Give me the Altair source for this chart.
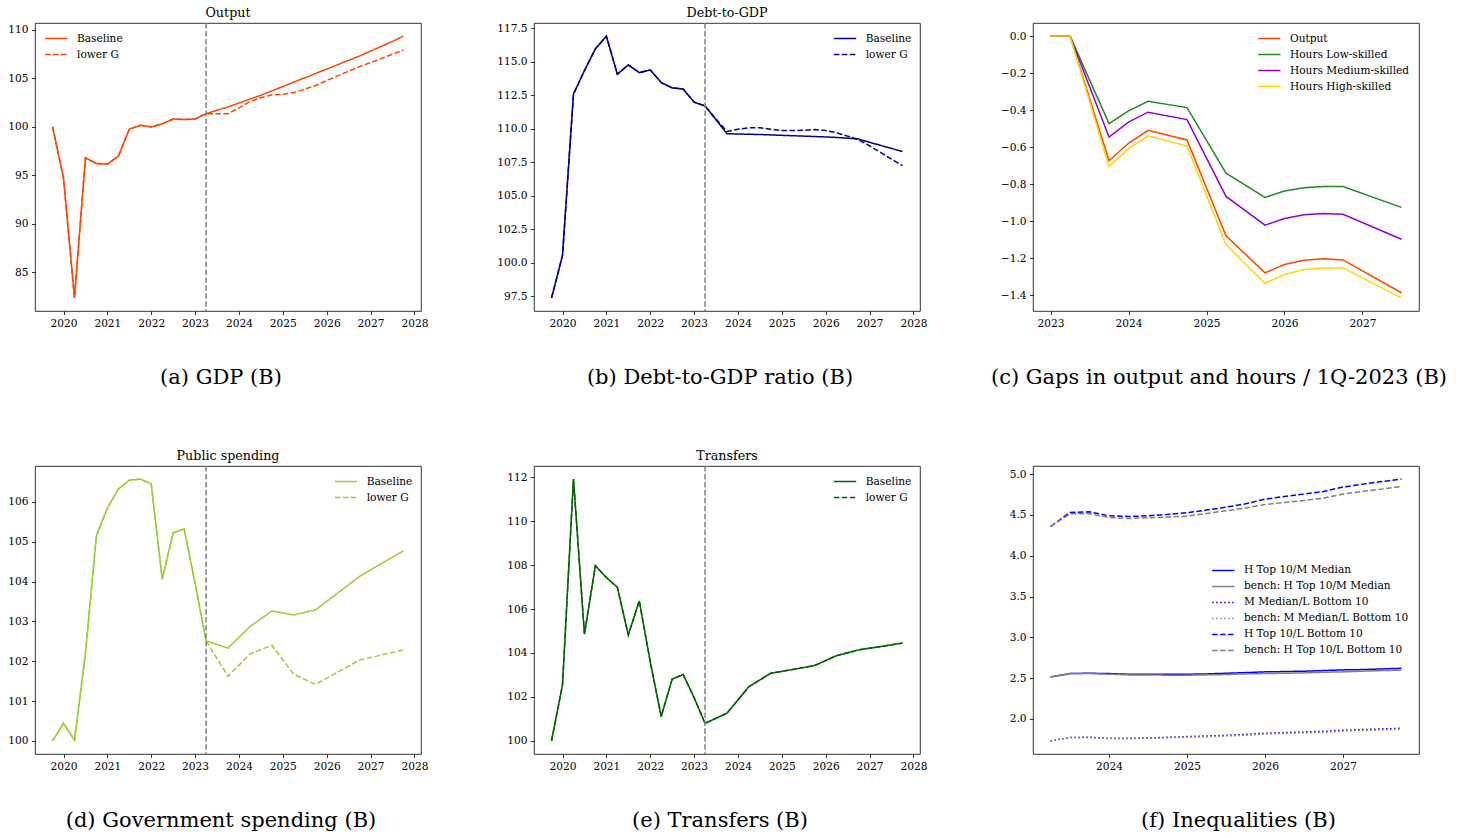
import altair as alt
import pandas as pd

# ---------------------------------------------------------------------------
# Time axis (fractional years, one point per quarter)
# ---------------------------------------------------------------------------
Q_HIST = [2019.75, 2020.0, 2020.25, 2020.5, 2020.75, 2021.0, 2021.25, 2021.5,
          2021.75, 2022.0, 2022.25, 2022.5, 2022.75, 2023.0, 2023.25]
Q_PROJ = [2023.25, 2023.5, 2023.75, 2024.0, 2024.25, 2024.5, 2024.75, 2025.0,
          2025.25, 2025.5, 2025.75, 2026.0, 2026.25, 2026.5, 2026.75, 2027.0,
          2027.25, 2027.5, 2027.75]
SHOCK_T = 2023.25
YEARS_FULL = [2020, 2021, 2022, 2023, 2024, 2025, 2026, 2027, 2028]
SCENARIOS = ["Baseline", "lower G"]

# (a) Output
OUTPUT_HIST = [100.0, 94.7, 82.35, 96.8, 96.2, 96.15, 96.95, 99.75, 100.15,
               99.98, 100.3, 100.8, 100.75, 100.8, 101.35]
OUTPUT_BASE = [101.35, 101.7, 102.05, 102.45, 102.85, 103.25, 103.7, 104.15,
               104.6, 105.05, 105.5, 105.95, 106.4, 106.85, 107.3, 107.8,
               108.3, 108.8, 109.35]
OUTPUT_LOWG = [101.35, 101.35, 101.35, 101.95, 102.6, 103.0, 103.28, 103.35,
               103.53, 103.87, 104.25, 104.77, 105.25, 105.73, 106.2, 106.63,
               107.04, 107.49, 107.9]

# (b) Debt-to-GDP
DEBT_HIST = [97.38, 100.55, 112.6, 114.35, 115.98, 116.93, 114.08, 114.78,
             114.2, 114.4, 113.46, 113.06, 112.98, 112.0, 111.71]
DEBT_BASE = [111.71, 110.68, 109.64, 109.62, 109.6, 109.58, 109.55, 109.52,
             109.49, 109.46, 109.43, 109.4, 109.36, 109.31, 109.24, 109.0,
             108.77, 108.54, 108.31]
DEBT_LOWG = [111.71, 110.74, 109.81, 109.98, 110.08, 110.08, 109.98, 109.88,
             109.88, 109.9, 109.95, 109.88, 109.71, 109.46, 109.19, 108.74,
             108.24, 107.74, 107.26]

# (d) Public spending (projection reported half-yearly)
SPEND_PROJ_T = [2023.25, 2023.75, 2024.25, 2024.75, 2025.25, 2025.75,
                2026.75, 2027.75]
SPEND_HIST = [100.0, 100.44, 100.02, 102.2, 105.15, 105.84, 106.32, 106.54,
              106.57, 106.45, 104.06, 105.22, 105.32, 103.95, 102.51]
SPEND_BASE = [102.51, 102.33, 102.87, 103.26, 103.16, 103.29, 104.13, 104.77]
SPEND_LOWG = [102.51, 101.62, 102.18, 102.4, 101.67, 101.42, 102.03, 102.28]

# (e) Transfers
TRANSF_PROJ_T = [2023.25, 2023.75, 2024.25, 2024.75, 2025.25, 2025.75,
                 2026.25, 2026.75, 2027.25, 2027.75]
TRANSF_HIST = [100.0, 102.55, 111.91, 104.86, 107.97, 107.43, 106.99, 104.82,
               106.37, 103.6, 101.11, 102.81, 103.02, 101.97, 100.8]
TRANSF_BASE = [100.8, 101.26, 102.47, 103.08, 103.25, 103.43, 103.88, 104.14,
               104.29, 104.45]
# transfers are unaffected by the lower-G scenario
TRANSF_LOWG = list(TRANSF_BASE)

# (c) Gaps in output and hours relative to 1Q-2023
GAP_T = [2023.0, 2023.25, 2023.75, 2024.0, 2024.25, 2024.75, 2025.25, 2025.75,
         2026.0, 2026.25, 2026.5, 2026.75, 2027.5]
GAP_SERIES = ["Output", "Hours Low-skilled", "Hours Medium-skilled",
              "Hours High-skilled"]
GAP_COLORS = ["#FF4500", "#228B22", "#9400D3", "#FFD700"]
GAP_OUTPUT = [0.0, 0.0, -0.673, -0.579, -0.509, -0.561, -1.079, -1.279,
              -1.234, -1.211, -1.203, -1.209, -1.386]
GAP_LOW = [0.0, 0.0, -0.473, -0.404, -0.352, -0.386, -0.74, -0.871, -0.837,
           -0.819, -0.812, -0.812, -0.925]
GAP_MED = [0.0, 0.0, -0.545, -0.465, -0.411, -0.451, -0.866, -1.021, -0.985,
           -0.965, -0.958, -0.962, -1.097]
GAP_HIGH = [0.0, 0.0, -0.705, -0.608, -0.539, -0.594, -1.126, -1.335, -1.288,
            -1.261, -1.252, -1.252, -1.414]

# (f) Inequality ratios
INEQ_SERIES = ["H Top 10/M Median", "bench: H Top 10/M Median",
               "M Median/L Bottom 10", "bench: M Median/L Bottom 10",
               "H Top 10/L Bottom 10", "bench: H Top 10/L Bottom 10"]
INEQ_COLORS = ["#0000FF", "#808080", "#0000FF", "#808080", "#0000FF", "#808080"]
INEQ_DASHES = [[1, 0], [1, 0], [1.5, 2.5], [1.5, 2.5], [5.55, 2.4], [5.55, 2.4]]
H10_M = [2.515, 2.556, 2.56, 2.556, 2.548, 2.548, 2.548, 2.548, 2.552, 2.56,
         2.568, 2.577, 2.581, 2.585, 2.593, 2.601, 2.605, 2.613, 2.621]
H10_M_BENCH = [2.515, 2.556, 2.556, 2.548, 2.54, 2.54, 2.536, 2.536, 2.54,
               2.544, 2.552, 2.556, 2.56, 2.564, 2.572, 2.577, 2.585, 2.593,
               2.597]
M_L10 = [1.731, 1.772, 1.776, 1.763, 1.763, 1.767, 1.776, 1.784, 1.792, 1.8,
         1.812, 1.825, 1.833, 1.841, 1.849, 1.862, 1.87, 1.878, 1.886]
M_L10_BENCH = [1.731, 1.772, 1.774, 1.761, 1.761, 1.763, 1.77, 1.776, 1.783,
               1.79, 1.8, 1.815, 1.822, 1.829, 1.836, 1.85, 1.857, 1.865,
               1.876]
H10_L10 = [4.358, 4.53, 4.538, 4.489, 4.481, 4.489, 4.506, 4.526, 4.559,
           4.595, 4.636, 4.693, 4.726, 4.755, 4.787, 4.841, 4.877, 4.91, 4.939]
H10_L10_BENCH = [4.358, 4.514, 4.514, 4.469, 4.456, 4.465, 4.473, 4.485,
                 4.518, 4.55, 4.583, 4.628, 4.652, 4.677, 4.706, 4.755, 4.787,
                 4.816, 4.849]

# ---------------------------------------------------------------------------
PANEL_W, PANEL_H = 386, 288
SERIF = "DejaVu Serif"
DASH = [5.55, 2.4]
LEG_ROW = 15.7
LEG_Y0 = 15.5 - LEG_ROW / 2
CAPTION_X = 185.5      # sub-figure captions sit slightly left of the plot centre
CAPTION_Y = 55


def padded(values):
    lo, hi = min(values), max(values)
    pad = 0.05 * (hi - lo)
    return [lo - pad, hi + pad]


def legend(x, y, **extra):
    return alt.Legend(title=None, orient="none", legendX=x, legendY=y, **extra)


def x_axis(values, caption, caption_x=CAPTION_X):
    return alt.Axis(values=values, format="d", title=caption,
                    titleX=caption_x, titleY=CAPTION_Y, titleBaseline="top")


def policy_panel(label, caption, color, hist, proj_t, base, lowg,
                 y_ticks, y_fmt, legend_x):
    t_base = Q_HIST + proj_t[1:]
    v_base = hist + base[1:]
    v_low = hist + lowg[1:]
    df = pd.DataFrame({
        "t": t_base + t_base,
        "value": v_base + v_low,
        "scenario": ["Baseline"] * len(t_base) + ["lower G"] * len(t_base),
    })
    x_dom = padded(df["t"].tolist())
    y_dom = padded(df["value"].tolist())
    lines = alt.Chart(df).mark_line(strokeWidth=1.5, color=color).encode(
        x=alt.X("t:Q", scale=alt.Scale(domain=x_dom, nice=False, zero=False),
                axis=x_axis(YEARS_FULL, caption)),
        y=alt.Y("value:Q", scale=alt.Scale(domain=y_dom, nice=False, zero=False),
                axis=alt.Axis(values=y_ticks, format=y_fmt, title=None)),
        strokeDash=alt.StrokeDash(
            "scenario:N",
            scale=alt.Scale(domain=SCENARIOS, range=[[1, 0], DASH]),
            legend=legend(legend_x, LEG_Y0, symbolStrokeColor=color),
        ),
    )
    marker = alt.Chart(pd.DataFrame({"t": [SHOCK_T]})).mark_rule(
        color="#808080", strokeWidth=1.5, strokeDash=DASH
    ).encode(x="t:Q")
    return alt.layer(lines, marker).properties(
        width=PANEL_W, height=PANEL_H, title=label
    )


def gaps_panel(caption):
    rows = []
    for name, vals in zip(GAP_SERIES, [GAP_OUTPUT, GAP_LOW, GAP_MED, GAP_HIGH]):
        rows += [{"t": t, "value": v, "series": name} for t, v in zip(GAP_T, vals)]
    df = pd.DataFrame(rows)
    return alt.Chart(df).mark_line(strokeWidth=1.5).encode(
        x=alt.X("t:Q", scale=alt.Scale(domain=padded(GAP_T), nice=False, zero=False),
                axis=x_axis([2023, 2024, 2025, 2026, 2027], caption)),
        y=alt.Y("value:Q",
                scale=alt.Scale(domain=padded(df["value"].tolist()), nice=False,
                                zero=False),
                axis=alt.Axis(values=[0.0, -0.2, -0.4, -0.6, -0.8, -1.0, -1.2, -1.4],
                              format=".1f", title=None)),
        color=alt.Color("series:N",
                        scale=alt.Scale(domain=GAP_SERIES, range=GAP_COLORS),
                        legend=legend(224.3, LEG_Y0)),
    ).properties(width=PANEL_W, height=PANEL_H)


def inequality_panel(caption):
    rows = []
    series_vals = [H10_M, H10_M_BENCH, M_L10, M_L10_BENCH, H10_L10, H10_L10_BENCH]
    for name, vals in zip(INEQ_SERIES, series_vals):
        rows += [{"t": t, "value": v, "series": name} for t, v in zip(Q_PROJ, vals)]
    df = pd.DataFrame(rows)
    leg = legend(178.3, 104.4 - LEG_ROW / 2)
    return alt.Chart(df).mark_line(strokeWidth=1.5).encode(
        x=alt.X("t:Q", scale=alt.Scale(domain=padded(Q_PROJ), nice=False, zero=False),
                axis=x_axis([2024, 2025, 2026, 2027], caption, caption_x=205)),
        y=alt.Y("value:Q",
                scale=alt.Scale(domain=padded(df["value"].tolist()), nice=False,
                                zero=False),
                axis=alt.Axis(values=[2.0, 2.5, 3.0, 3.5, 4.0, 4.5, 5.0],
                              format=".1f", title=None)),
        color=alt.Color("series:N",
                        scale=alt.Scale(domain=INEQ_SERIES, range=INEQ_COLORS),
                        legend=leg),
        strokeDash=alt.StrokeDash("series:N",
                                  scale=alt.Scale(domain=INEQ_SERIES,
                                                  range=INEQ_DASHES),
                                  legend=leg),
    ).properties(width=PANEL_W, height=PANEL_H)


panel_a = policy_panel("Output", "(a) GDP (B)", "#FF4500", OUTPUT_HIST, Q_PROJ,
                       OUTPUT_BASE, OUTPUT_LOWG, [85, 90, 95, 100, 105, 110],
                       "d", 9.3)
panel_b = policy_panel("Debt-to-GDP", "(b) Debt-to-GDP ratio (B)", "#00008B",
                       DEBT_HIST, Q_PROJ, DEBT_BASE, DEBT_LOWG,
                       [97.5, 100.0, 102.5, 105.0, 107.5, 110.0, 112.5, 115.0, 117.5],
                       ".1f", 299)
panel_c = gaps_panel("(c) Gaps in output and hours / 1Q-2023 (B)")
panel_d = policy_panel("Public spending", "(d) Government spending (B)",
                       "#9ACD32", SPEND_HIST, SPEND_PROJ_T, SPEND_BASE,
                       SPEND_LOWG, [100, 101, 102, 103, 104, 105, 106], "d", 299)
panel_e = policy_panel("Transfers", "(e) Transfers (B)", "#006400", TRANSF_HIST,
                       TRANSF_PROJ_T, TRANSF_BASE, TRANSF_LOWG,
                       [100, 102, 104, 106, 108, 110, 112], "d", 299)
panel_f = inequality_panel("(f) Inequalities (B)")

chart = alt.concat(
    panel_a, panel_b, panel_c, panel_d, panel_e, panel_f,
    columns=3,
    spacing={"row": 155, "column": 113},
    bounds="flush",
).resolve_scale(
    color="independent", strokeDash="independent",
).resolve_legend(
    color="independent", strokeDash="independent",
).properties(
    padding={"left": 7, "top": 6, "right": 5, "bottom": 5},
    background="white",
).configure_view(
    stroke="black", strokeWidth=0.8,
).configure_axis(
    grid=False, domain=False, labelFlush=False,
    tickColor="black", tickWidth=0.8, tickSize=3.5, labelPadding=3.5,
    labelFont=SERIF, labelFontSize=10.6, labelColor="black",
    titleFont=SERIF, titleFontSize=21, titleFontWeight="normal",
    titleColor="black", titlePadding=38,
).configure_legend(
    labelFont=SERIF, labelFontSize=10.6, labelColor="black", labelLimit=400,
    symbolType="stroke", symbolSize=500, symbolStrokeWidth=1.5,
    labelOffset=8.7, padding=0, rowPadding=0, clipHeight=LEG_ROW,
).configure_title(
    font=SERIF, fontSize=12.7, fontWeight="normal", color="black",
    offset=2.9, baseline="alphabetic", anchor="middle", frame="group",
)

chart.save("out.html", embed_options={"renderer": "svg", "actions": False})
